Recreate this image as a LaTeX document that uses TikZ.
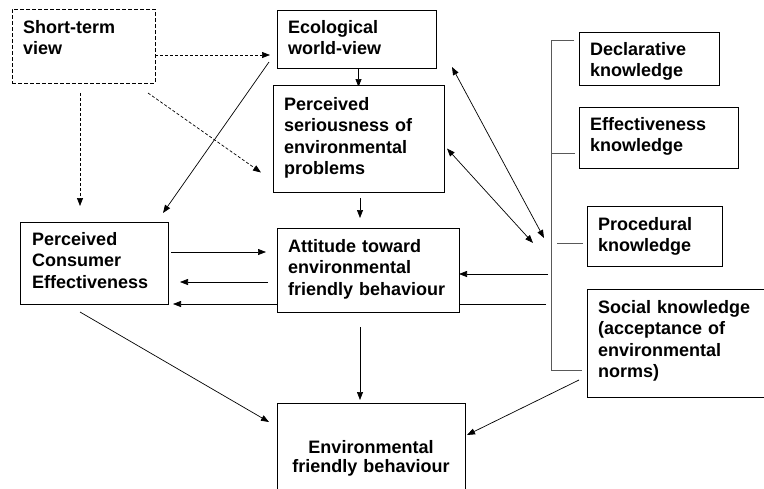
\documentclass[tikz,border=0pt]{standalone}
\usepackage{fontspec}
\setmainfont{Liberation Sans}
\usetikzlibrary{arrows.meta,calc,backgrounds}
\begin{document}
\begin{tikzpicture}[x=1pt,y=-1pt,
  box/.style={draw=black, line width=0.9pt, fill=white, inner sep=0pt, outer sep=0pt, anchor=north west},
  dbox/.style={box, dash pattern=on 4pt off 2pt},
  lbl/.style={inner sep=0pt, anchor=base west, text width=220pt, align=left, font=\bfseries\fontsize{18}{21.5}\selectfont},
  arr/.style={line width=0.7pt, -{Triangle[length=8pt,width=6pt]}},
  darr/.style={line width=0.7pt, {Triangle[length=8pt,width=6pt]}-{Triangle[length=8pt,width=6pt]}},
  dsh/.style={arr, dash pattern=on 3pt off 2pt},
  brk/.style={line width=0.9pt, draw=black!65}]
\useasboundingbox (0,0) rectangle (764,488);
% boxes
\node[dbox, minimum width=143pt, minimum height=74pt] (sv) at (12,9) {};
\node[box, minimum width=159pt, minimum height=58pt] (eco) at (277,10) {};
\node[box, minimum width=171pt, minimum height=107pt] (ps) at (273,85) {};
\node[box, minimum width=148pt, minimum height=82pt] (pce) at (20,222) {};
\node[box, minimum width=182pt, minimum height=84pt] (att) at (277,228) {};
\node[box, minimum width=188pt, minimum height=92pt] (efb) at (277,403) {};
\node[box, minimum width=140pt, minimum height=53pt] (dk) at (579,32) {};
\node[box, minimum width=159pt, minimum height=61pt] (ek) at (579,107) {};
\node[box, minimum width=135pt, minimum height=60pt] (pk) at (587,206) {};
\node[box, minimum width=179pt, minimum height=108pt] (sk) at (587,289) {};
% labels
\node[lbl] (tsv) at (23,33) {Short-term\\view};
\node[lbl] (teco) at (288,33) {Ecological\\world-view};
\node[lbl] (tps) at (284,110) {Perceived\\seriousness of\\environmental\\problems};
\node[lbl] (tpce) at (32,245) {Perceived\\Consumer\\Effectiveness};
\node[lbl] (tatt) at (288,252) {Attitude toward\\environmental\\friendly behaviour};
\node[inner sep=0pt, anchor=base, text width=188pt, align=center, font=\bfseries\fontsize{18}{19}\selectfont] (tefb) at (371,453) {Environmental\\friendly behaviour};
\node[lbl] (tdk) at (590,55) {Declarative\\knowledge};
\node[lbl] (tek) at (590,130) {Effectiveness\\knowledge};
\node[lbl] (tpk) at (598,230) {Procedural\\knowledge};
\node[lbl] (tsk) at (598,313) {Social knowledge\\(acceptance of\\environmental\\norms)};
% free ends at the knowledge bracket
\coordinate (bt) at (551,40);
\coordinate (bb) at (551,370);
\coordinate (k1) at (544,238);
\coordinate (k2) at (533,243);
\coordinate (k3) at (548,274);
\coordinate (k4) at (546,304);
\begin{pgfonlayer}{background}
% bracket
\draw[brk] ($(dk.west)+(-5,-18.5)$) -- (bt) -- (bb) -- ($(sk.west)+(-5,27)$);
\draw[brk] ($(ek.west)+(-4,15.5)$) -- +(-24,0);
\draw[brk] ($(pk.west)+(-4,7)$) -- +(-26,0);
% dashed arrows from short-term view
\draw[dsh] ($(sv.east)+(0,9)$) -- ($(eco.west)+(-7,16)$);
\draw[dsh] ($(sv.south east)+(-7,10)$) -- ($(ps.west)+(-12,34)$);
\draw[dsh] ($(sv.south)+(-3.5,10)$) -- ($(pce.north)+(-14,-16)$);
% solid arrows
\draw[arr] ($(eco.west)+(-8,23)$) -- ($(pce.north east)+(-5,-9)$);
\draw[arr] (eco.south -| ps.north) -- ($(ps.north)+(0,2)$);
\draw[arr] ($(ps.south)+(1.5,6)$) -- ($(att.north)+(-8,-10)$);
\draw[arr] ($(pce.east)+(3,-11)$) -- ($(att.west)+(-11,-18)$);
\draw[arr] ($(att.west)+(-9,12)$) -- ($(pce.east)+(12,19)$);
\draw[arr] (k3) -- ($(att.east)+(0,4)$);
\draw[arr] (k4) -- ($(pce.south east)+(5,0)$);
\draw[arr] ($(att.south)+(-8,15)$) -- ($(efb.north)+(-11,-3)$);
\draw[arr] ($(pce.south)+(-14,8)$) -- ($(efb.north west)+(-8,19)$);
\draw[arr] ($(sk.west)+(-8,37)$) -- ($(efb.north east)+(2,32)$);
\draw[darr] ($(eco.south east)+(16,-1)$) -- (k1);
\draw[darr] ($(ps.east)+(3,10)$) -- (k2);
\end{pgfonlayer}
\end{tikzpicture}
\end{document}
